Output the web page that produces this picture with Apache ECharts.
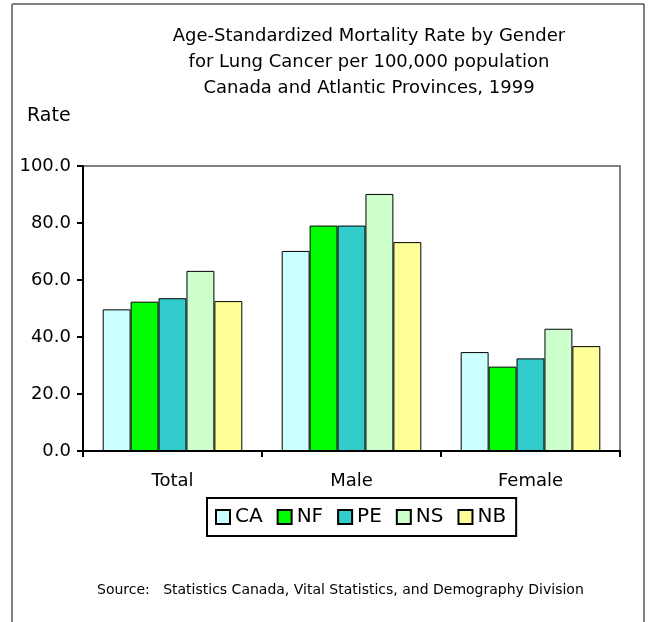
<!DOCTYPE html>
<html>
<head>
<meta charset="utf-8">
<script src="https://cdn.jsdelivr.net/npm/echarts@6/dist/echarts.min.js"></script>
<style>
  html, body { margin: 0; padding: 0; background: #fff; }
  #main { width: 648px; height: 622px; }
</style>
</head>
<body>
<div id="main"></div>
<script>
const categories = ['Total', 'Male', 'Female'];
const regions = ['CA', 'NF', 'PE', 'NS', 'NB'];
const CA = [49.7, 70.2, 34.7];
const NF = [52.4, 79.1, 29.6];
const PE = [53.6, 79.1, 32.5];
const NS = [63.2, 90.2, 42.9];
const NB = [52.6, 73.3, 36.8];
const colors = ['#CCFFFF', '#00FF00', '#33CCCC', '#CCFFCC', '#FFFF99'];

const font = 'DejaVu Sans, sans-serif';
const chart = echarts.init(document.getElementById('main'), null, { renderer: 'canvas' });

const values = [CA, NF, PE, NS, NB];
const series = regions.map(function (name, i) {
  return {
    name: name,
    type: 'bar',
    data: values[i],
    barGap: '0%',
    barCategoryGap: '22%',
    itemStyle: { color: colors[i], borderColor: '#000', borderWidth: 1 },
    emphasis: { disabled: true }
  };
});

const option = {
  backgroundColor: '#ffffff',
  animation: false,
  color: colors,
  title: {
    text: 'Age-Standardized Mortality Rate by Gender\nfor Lung Cancer per 100,000 population\nCanada and Atlantic Provinces, 1999',
    left: 364,
    top: 18,
    textAlign: 'center',
    textStyle: { fontFamily: font, fontSize: 18, fontWeight: 'normal', color: '#000', lineHeight: 26 }
  },
  grid: {
    left: 83, right: 28, top: 166, bottom: 171,
    show: true, borderColor: '#808080', borderWidth: 2, backgroundColor: 'transparent'
  },
  legend: {
    data: regions,
    left: 207,
    top: 498,
    orient: 'horizontal',
    itemWidth: 14,
    itemHeight: 14,
    itemGap: 14,
    icon: 'rect',
    padding: [9, 10, 9, 8],
    borderColor: '#000',
    borderWidth: 2,
    textStyle: { fontFamily: font, fontSize: 20, color: '#000' },
    selectedMode: false
  },
  xAxis: {
    type: 'category',
    data: categories,
    axisLine: { lineStyle: { color: '#000', width: 2 } },
    axisTick: { show: true, length: 6, lineStyle: { color: '#000', width: 2 } },
    axisLabel: { fontFamily: font, fontSize: 18, color: '#000', margin: 21 }
  },
  yAxis: {
    type: 'value',
    min: 0,
    max: 100,
    interval: 20,
    axisLine: { show: true, lineStyle: { color: '#000', width: 2 } },
    axisTick: { show: true, length: 6, lineStyle: { color: '#000', width: 2 } },
    splitLine: { show: false },
    axisLabel: {
      fontFamily: font, fontSize: 18, color: '#000', margin: 12,
      formatter: function (v) { return v.toFixed(1); }
    }
  },
  graphic: [
    {
      type: 'rect',
      shape: { x: 12, y: 4, width: 632, height: 640 },
      style: { fill: 'none', stroke: '#000', lineWidth: 1 },
      silent: true
    },
    {
      type: 'line',
      shape: { x1: 12, y1: 4, x2: 12, y2: 622 },
      style: { stroke: '#808080', lineWidth: 2 },
      silent: true
    },
    {
      type: 'text',
      left: 27,
      top: 107,
      style: { text: 'Rate', fontFamily: font, fontSize: 19, fill: '#000' }
    },
    {
      type: 'text',
      left: 97,
      top: 583,
      style: {
        text: 'Source:   Statistics Canada, Vital Statistics, and Demography Division',
        fontFamily: font, fontSize: 14, fill: '#000'
      }
    }
  ],
  series: series
};

chart.setOption(option);
</script>
</body>
</html>
